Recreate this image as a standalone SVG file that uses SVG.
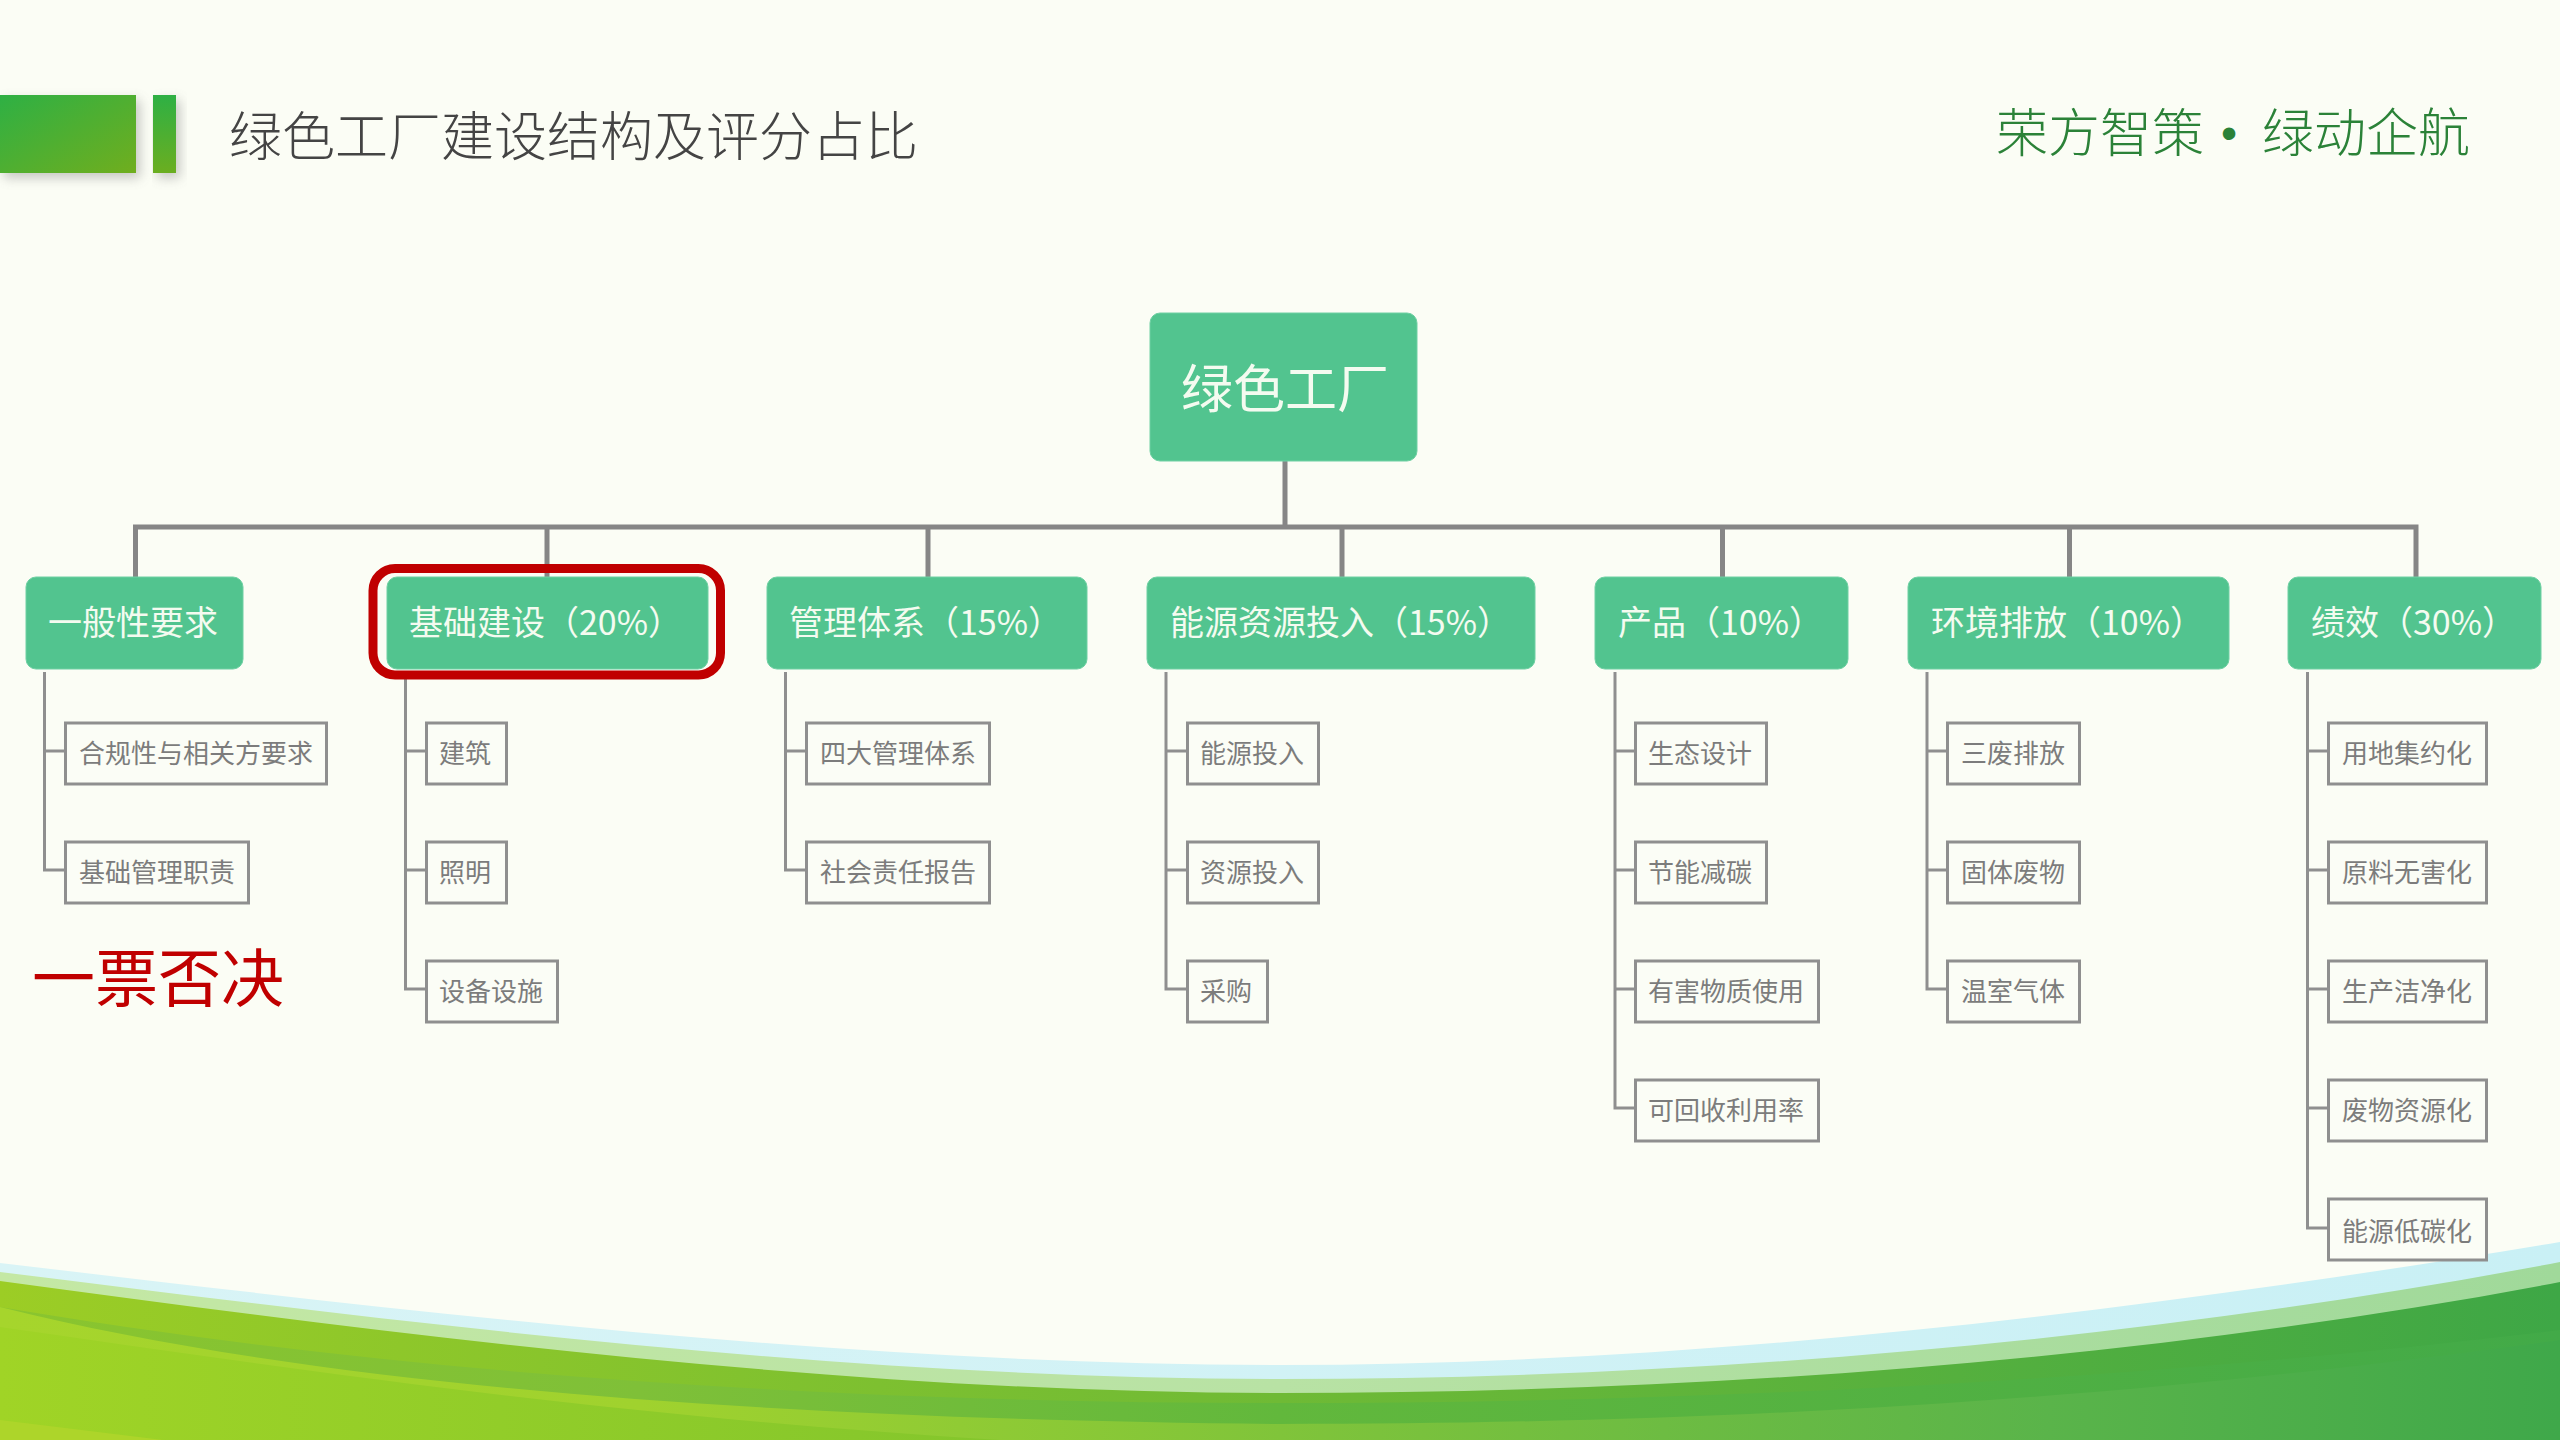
<svg xmlns="http://www.w3.org/2000/svg" width="2560" height="1440" viewBox="0 0 2560 1440">
<style>
text{font-family:"Noto Sans CJK SC","Noto Sans",sans-serif}
.n{fill:#52c48f;stroke:#6fd0a3;stroke-width:1}
.nt{fill:#f4fbf0;font-size:34px;font-weight:400}
.b{fill:#fbfdf6;stroke:#8f8f8f;stroke-width:3}
.bt{fill:#7c7c7c;font-size:26px;font-weight:400}
.l1{fill:none;stroke:#868686;stroke-width:5}
.l2{fill:none;stroke:#8f8f8f;stroke-width:3}
.hg{fill:#2b8238;font-size:52px;font-weight:300}
</style>
<defs>
<linearGradient id="hd" x1="0" y1="0" x2="1" y2="1"><stop offset="0" stop-color="#2eb044"/><stop offset="1" stop-color="#70ae1e"/></linearGradient>
<linearGradient id="hd2" x1="0" y1="0" x2="0" y2="1"><stop offset="0" stop-color="#2eb044"/><stop offset="1" stop-color="#6bae20"/></linearGradient>
<linearGradient id="w1" x1="0" y1="0" x2="1" y2="0"><stop offset="0" stop-color="#d9f4f6"/><stop offset="1" stop-color="#c9f0f5"/></linearGradient>
<linearGradient id="w2" x1="0" y1="0" x2="1" y2="0"><stop offset="0" stop-color="#c4e8a4"/><stop offset="0.5" stop-color="#b8e2a4"/><stop offset="1" stop-color="#a0d99a"/></linearGradient>
<linearGradient id="w3" x1="0" y1="0" x2="1" y2="0"><stop offset="0" stop-color="#9ccd25"/><stop offset="0.5" stop-color="#6fba35"/><stop offset="1" stop-color="#3ea746"/></linearGradient>
<linearGradient id="w4" x1="0" y1="0" x2="1" y2="0"><stop offset="0" stop-color="#8ac52e"/><stop offset="0.25" stop-color="#7fc038"/><stop offset="0.5" stop-color="#62b83c"/><stop offset="1" stop-color="#42aa48"/></linearGradient>
<linearGradient id="w5" x1="0" y1="0" x2="1" y2="0"><stop offset="0" stop-color="#a6d52c"/><stop offset="0.25" stop-color="#a0d22e"/><stop offset="0.5" stop-color="#80c43a"/><stop offset="0.8" stop-color="#5ab44a"/><stop offset="1" stop-color="#3fa84a"/></linearGradient>
<linearGradient id="w6" x1="0" y1="0" x2="1" y2="0"><stop offset="0" stop-color="#a0d426"/><stop offset="1" stop-color="#84c62c"/></linearGradient>
<filter id="sh" x="-20%" y="-20%" width="150%" height="150%"><feGaussianBlur stdDeviation="6"/></filter>
</defs>
<rect width="2560" height="1440" fill="#fbfdf5"/>
<g id="waves">
<path d="M0 1263C400 1310 850 1365 1280 1365C1700 1365 2150 1310 2560 1242V1440H0Z" fill="url(#w1)"/>
<path d="M0 1272C400 1322 850 1379 1280 1379C1700 1379 2150 1340 2560 1262V1440H0Z" fill="url(#w2)"/>
<path d="M0 1281C400 1335 850 1393 1280 1393C1700 1393 2150 1360 2560 1282V1440H0Z" fill="url(#w3)"/>
<path d="M0 1307C400 1375 850 1403 1280 1403C1700 1403 2150 1380 2560 1330V1440H0Z" fill="url(#w4)"/>
<path d="M0 1307C350 1395 850 1420 1280 1424C1800 1424 2200 1390 2560 1340V1440H0Z" fill="url(#w5)"/>
<path d="M0 1327C300 1370 600 1415 1000 1440H0Z" fill="url(#w6)"/>
<path d="M0 1420L163 1440H0Z" fill="#add52a"/>
</g>
<g id="header">
<rect x="4" y="100" width="136" height="78" fill="#777" opacity="0.4" filter="url(#sh)"/>
<rect x="157" y="100" width="23" height="78" fill="#777" opacity="0.4" filter="url(#sh)"/>
<rect x="0" y="95" width="136" height="78" fill="url(#hd)"/>
<rect x="153" y="95" width="23" height="78" fill="url(#hd2)"/>
<text x="229" y="156" font-size="53" font-weight="300" fill="#444">绿色工厂建设结构及评分占比</text>
<text class="hg" x="1996" y="152">荣方智策<tspan x="2221" y="149" font-family="Liberation Sans" font-size="46" font-weight="400">•</tspan><tspan x="2262" y="152">绿动企航</tspan></text>
</g>
<g id="connectors">
<path class="l1" d="M1285 461V527M135.500 578V527H2416V578M547 527V578M928 527V578M1342 527V578M1722.500 527V578M2069.500 527V578"/>
<path class="l2" d="M44.500 672V870H66M44.500 751H66"/>
<path class="l2" d="M405.500 672V989H427M405.500 751H427M405.500 870H427"/>
<path class="l2" d="M785.500 672V870H807M785.500 751H807"/>
<path class="l2" d="M1166 672V989H1188M1166 751H1188M1166 870H1188"/>
<path class="l2" d="M1615 672V1108H1636M1615 751H1636M1615 870H1636M1615 989H1636"/>
<path class="l2" d="M1927 672V989H1948M1927 751H1948M1927 870H1948"/>
<path class="l2" d="M2307.500 672V1228H2329M2307.500 751H2329M2307.500 870H2329M2307.500 989H2329M2307.500 1108H2329"/>
</g>
<g id="root"><rect class="n" x="1150" y="313" width="267" height="148" rx="10"/><text x="1181" y="408" font-size="52" font-weight="400" fill="#f4fbf0">绿色工厂</text></g>
<g id="col1"><rect class="n" x="26" y="577" width="217" height="92" rx="10"/><text class="nt" x="48" y="635">一般性要求</text>
<rect class="b" x="65.500" y="723" width="261" height="61"/><text class="bt" x="79" y="763">合规性与相关方要求</text>
<rect class="b" x="65.500" y="842" width="183" height="61"/><text class="bt" x="79" y="882">基础管理职责</text></g>
<g id="col2"><rect class="n" x="387" y="577" width="321" height="92" rx="10"/><text class="nt" x="409" y="635">基础建设（20%）</text>
<rect x="373" y="568.500" width="347.500" height="106.500" rx="22" fill="none" stroke="#c00000" stroke-width="9"/>
<rect class="b" x="426.500" y="723" width="80" height="61"/><text class="bt" x="439" y="763">建筑</text>
<rect class="b" x="426.500" y="842" width="80" height="61"/><text class="bt" x="439" y="882">照明</text>
<rect class="b" x="426.500" y="961" width="131" height="61"/><text class="bt" x="439" y="1001">设备设施</text></g>
<g id="col3"><rect class="n" x="767" y="577" width="320" height="92" rx="10"/><text class="nt" x="789" y="635">管理体系（15%）</text>
<rect class="b" x="806.500" y="723" width="183" height="61"/><text class="bt" x="820" y="763">四大管理体系</text>
<rect class="b" x="806.500" y="842" width="183" height="61"/><text class="bt" x="820" y="882">社会责任报告</text></g>
<g id="col4"><rect class="n" x="1147" y="577" width="388" height="92" rx="10"/><text class="nt" x="1170" y="635">能源资源投入（15%）</text>
<rect class="b" x="1187.500" y="723" width="131" height="61"/><text class="bt" x="1200" y="763">能源投入</text>
<rect class="b" x="1187.500" y="842" width="131" height="61"/><text class="bt" x="1200" y="882">资源投入</text>
<rect class="b" x="1187.500" y="961" width="80" height="61"/><text class="bt" x="1200" y="1001">采购</text></g>
<g id="col5"><rect class="n" x="1595" y="577" width="253" height="92" rx="10"/><text class="nt" x="1618" y="635">产品（10%）</text>
<rect class="b" x="1635.500" y="723" width="131" height="61"/><text class="bt" x="1648" y="763">生态设计</text>
<rect class="b" x="1635.500" y="842" width="131" height="61"/><text class="bt" x="1648" y="882">节能减碳</text>
<rect class="b" x="1635.500" y="961" width="183" height="61"/><text class="bt" x="1648" y="1001">有害物质使用</text>
<rect class="b" x="1635.500" y="1080" width="183" height="61"/><text class="bt" x="1648" y="1120">可回收利用率</text></g>
<g id="col6"><rect class="n" x="1908" y="577" width="321" height="92" rx="10"/><text class="nt" x="1931" y="635">环境排放（10%）</text>
<rect class="b" x="1947.500" y="723" width="132" height="61"/><text class="bt" x="1961" y="763">三废排放</text>
<rect class="b" x="1947.500" y="842" width="132" height="61"/><text class="bt" x="1961" y="882">固体废物</text>
<rect class="b" x="1947.500" y="961" width="132" height="61"/><text class="bt" x="1961" y="1001">温室气体</text></g>
<g id="col7"><rect class="n" x="2288" y="577" width="253" height="92" rx="10"/><text class="nt" x="2311" y="635">绩效（30%）</text>
<rect class="b" x="2328.500" y="723" width="158" height="61"/><text class="bt" x="2342" y="763">用地集约化</text>
<rect class="b" x="2328.500" y="842" width="158" height="61"/><text class="bt" x="2342" y="882">原料无害化</text>
<rect class="b" x="2328.500" y="961" width="158" height="61"/><text class="bt" x="2342" y="1001">生产洁净化</text>
<rect class="b" x="2328.500" y="1080" width="158" height="61"/><text class="bt" x="2342" y="1120">废物资源化</text>
<rect class="b" x="2328.500" y="1199" width="158" height="61"/><text class="bt" x="2342" y="1241">能源低碳化</text></g>
<text id="veto" x="32" y="1001" font-size="63" fill="#c00000">一票否决</text>
</svg>
